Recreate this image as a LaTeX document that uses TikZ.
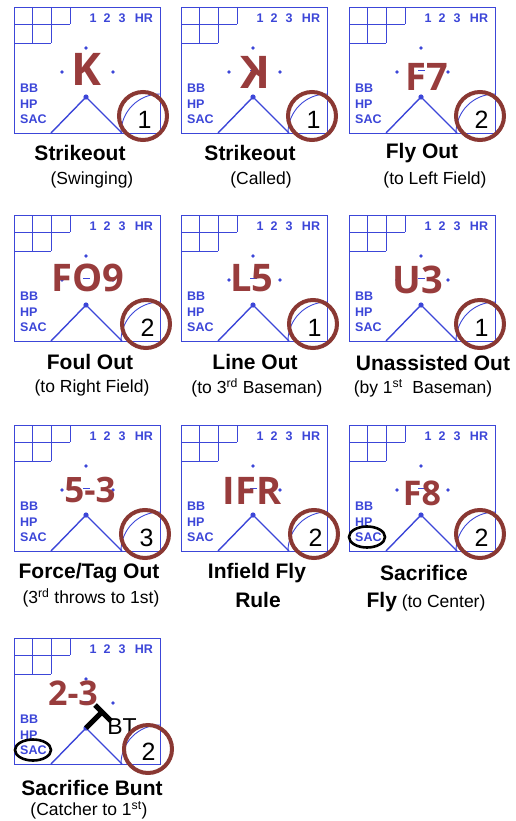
\documentclass[tikz,border=0pt]{standalone}
\usepackage{fontspec}
\setmainfont{Liberation Sans}
\newfontfamily\playfont{Open Sans}
\usetikzlibrary{shapes.geometric}
\definecolor{cardblue}{HTML}{3C46D8}
\definecolor{playred}{HTML}{983C3C}
\definecolor{ringred}{HTML}{8A3833}

\tikzset{
  boxline/.style={draw=cardblue, line width=0.9pt},
  gridline/.style={draw=cardblue, line width=0.7pt},
  diamondline/.style={draw=cardblue, line width=1.4pt},
  smalltext/.style={text=cardblue, inner sep=0pt, font=\bfseries\fontsize{12.5}{12.5}\selectfont},
  playlabel/.style={text=playred, inner sep=0pt, font=\playfont\bfseries\fontsize{#1}{#1}\selectfont},
  playlabel/.default=38,
  outring/.style={circle, draw=ringred, line width=4pt, minimum size=48pt, inner sep=0pt},
  outnum/.style={inner sep=0pt, font=\fontsize{25}{25}\selectfont},
  cardtitle/.style={inner sep=0pt, font=\bfseries\fontsize{21}{21}\selectfont},
  cardnote/.style={inner sep=0pt, font=\fontsize{17.5}{18}\selectfont},
  sacring/.style={ellipse, draw=black, line width=2.6pt, minimum width=36pt, minimum height=21pt, inner sep=0pt},
  % one empty score box
  scorebox/.pic={
    \draw[boxline] (0,0) rectangle (146,126);
    \draw[gridline] (0,17) -- (56,17) (56,0) -- (56,17)
      (0,36) -- (37,36) (18.5,0) -- (18.5,36) (37,0) -- (37,36);
    % bases reached
    \foreach \t/\x in {1/79,2/93,3/108,HR/130}
      \node[smalltext] (inn\t) at (\x,11) {\t};
    \foreach \t/\y in {BB/81,HP/97,SAC/112}
      \node[smalltext, anchor=west] (how\t) at (6,\y) {\t};
    % diamond
    \draw[diamondline] (37,126) -- (72,90) -- (108,126);
    \draw[boxline] (107,126) arc[start angle=180, end angle=270, radius=39];
    \draw[boxline] (69,63) -- (76,63);
    \fill[cardblue] (72,90) circle (2.6);
    \foreach \p in {(72,41),(48,65),(99,65)}
      \fill[cardblue] \p circle (1.8);
  }
}

\begin{document}
\begin{tikzpicture}[x=1pt, y=-1pt]
\useasboundingbox (0,0) rectangle (516,821);

% row 1
\begin{scope}[shift={(14,7)}]
  \pic (card1) at (0,0) {scorebox};
  \node[playlabel=45] (play1) at (72,62) {K};
  \node[outring] (ring1) at (129,109) {};
  \node[outnum] (num1) at (130.5,112.5) {1};
  \node[cardtitle] (title1) at (66,146) {Strikeout};
  \node[cardnote] (note1) at (78,173) {(Swinging)};
\end{scope}
\begin{scope}[shift={(181,7)}]
  \pic (card2) at (0,0) {scorebox};
  \node[playlabel=45] (play2) at (75,65) {\reflectbox{K}};
  \node[outring] (ring2) at (131,109) {};
  \node[outnum] (num2) at (132.5,112.5) {1};
  \node[cardtitle] (title2) at (69,146) {Strikeout};
  \node[cardnote] (note2) at (80,173) {(Called)};
\end{scope}
\begin{scope}[shift={(349,7)}]
  \pic (card3) at (0,0) {scorebox};
  \node[playlabel] (play3) at (78,70) {F7};
  \node[outring] (ring3) at (131,109) {};
  \node[outnum] (num3) at (132.5,112.5) {2};
  \node[cardtitle] (title3) at (73,146) {Fly Out};
  \node[cardnote] (note3) at (86,173) {(to Left Field)};
\end{scope}

% row 2
\begin{scope}[shift={(14,215)}]
  \pic (card4) at (0,0) {scorebox};
  \node[playlabel] (play4) at (74,63) {FO9};
  \node[outring] (ring4) at (132,109) {};
  \node[outnum] (num4) at (133.5,112.5) {2};
  \node[cardtitle] (title4) at (76,147) {Foul Out};
  \node[cardnote] (note4) at (78,173) {(to Right Field)};
\end{scope}
\begin{scope}[shift={(181,215)}]
  \pic (card5) at (0,0) {scorebox};
  \node[playlabel] (play5) at (71,63) {L5};
  \node[outring] (ring5) at (132,109) {};
  \node[outnum] (num5) at (133.5,112.5) {1};
  \node[cardtitle] (title5) at (74,147) {Line Out};
  \node[cardnote] (note5) at (76,173) {(to 3\textsuperscript{rd} Baseman)};
\end{scope}
\begin{scope}[shift={(349,215)}]
  \pic (card6) at (0,0) {scorebox};
  \node[playlabel] (play6) at (69,65) {U3};
  \node[outring] (ring6) at (131,109) {};
  \node[outnum] (num6) at (132.5,112.5) {1};
  \node[cardtitle] (title6) at (84,148) {Unassisted Out};
  \node[cardnote] (note6) at (74,173) {(by 1\textsuperscript{st}\ \ Baseman)};
\end{scope}

% row 3
\begin{scope}[shift={(14,425)}]
  \pic (card7) at (0,0) {scorebox};
  \node[playlabel=35] (play7) at (76,65) {5-3};
  \node[outring] (ring7) at (131,109) {};
  \node[outnum] (num7) at (132.5,112.5) {3};
  \node[cardtitle] (title7) at (75,148) {Force/Tag Out};
  \node[cardnote] (note7) at (77,173) {(3\textsuperscript{rd} throws to 1st)};
\end{scope}
\begin{scope}[shift={(181,425)}]
  \pic (card8) at (0,0) {scorebox};
  \node[playlabel] (play8) at (71,66) {IFR};
  \node[outring] (ring8) at (133,109) {};
  \node[outnum] (num8) at (134.5,112.5) {2};
  \node[cardtitle] (title8) at (76,148) {Infield Fly};
  \node[cardtitle] (title8b) at (77,175) {Rule};
\end{scope}
\begin{scope}[shift={(349,425)}]
  \pic (card9) at (0,0) {scorebox};
  \node[playlabel=34] (play9) at (73,68) {F8};
  \node[sacring] (sac9) at (18,112) {};
  \node[outring] (ring9) at (131,109) {};
  \node[outnum] (num9) at (132.5,112.5) {2};
  \node[cardtitle] (title9) at (75,148) {Sacrifice};
  \node[cardnote] (note9) at (77,177) {{\bfseries\fontsize{21}{21}\selectfont Fly} (to Center)};
\end{scope}

% row 4
\begin{scope}[shift={(14,638)}]
  \pic (card10) at (0,0) {scorebox};
  \node[playlabel=34] (play10) at (59,55) {2-3};
  \draw[line width=5pt] (72,90) -- (88,74);
  \draw[line width=5pt] (81,67) -- (97,83);
  \node[inner sep=0pt, font=\fontsize{23}{23}\selectfont] (bunt10) at (108,89) {BT};
  \node[sacring] (sac10) at (19,112) {};
  \node[outring] (ring10) at (134,111) {};
  \node[outnum] (num10) at (134.5,114) {2};
  \node[cardtitle] (title10) at (78,150) {Sacrifice Bunt};
  \node[cardnote] (note10) at (75,172) {(Catcher to 1\textsuperscript{st})};
\end{scope}
\end{tikzpicture}
\end{document}
